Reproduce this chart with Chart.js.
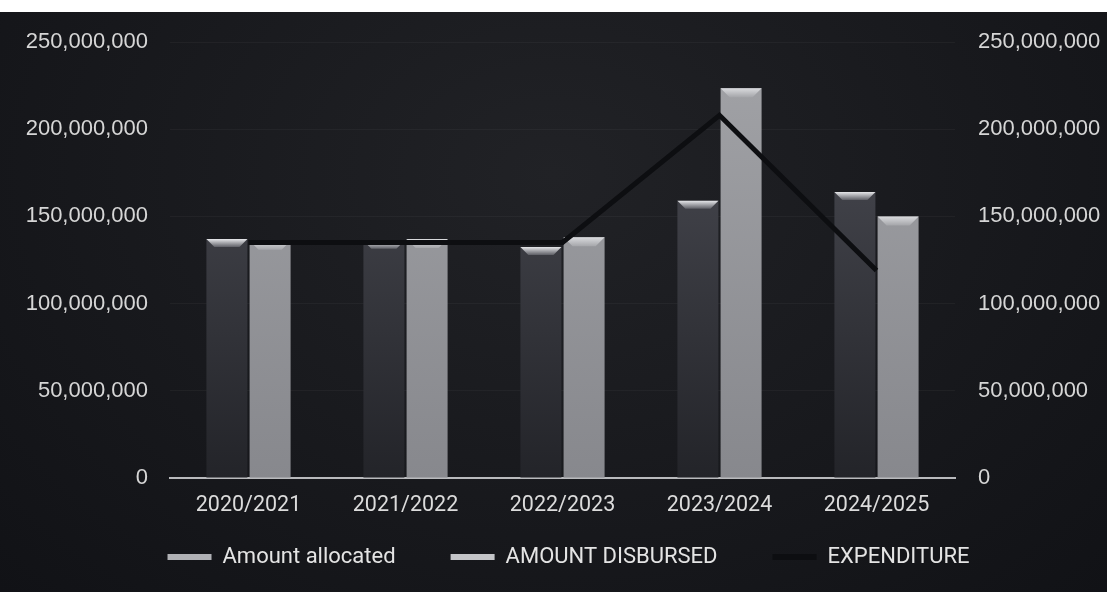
<!DOCTYPE html>
<html>
<head>
<meta charset="utf-8">
<script src="https://cdn.jsdelivr.net/npm/chart.js@4"></script>
<style>
  body { margin: 0; background: #fff; }
  #wrap {
    position: absolute; left: 0; top: 12px; width: 1107px; height: 580px;
    background: radial-gradient(ellipse at 50% 28%, #212226 0%, #18191d 55%, #111216 100%);
  }
</style>
</head>
<body>
<div id="wrap"><canvas id="budgetChart" width="1107" height="580"></canvas></div>
<script>
const years = ['2020/2021', '2021/2022', '2022/2023', '2023/2024', '2024/2025'];
const amountAllocated = [137000000, 136000000, 132500000, 159000000, 164000000];
const amountDisbursed = [136000000, 137000000, 138000000, 223500000, 150000000];
const expenditure = [135000000, 135000000, 135000000, 208000000, 119000000];
const yTicks = [0, 50000000, 100000000, 150000000, 200000000, 250000000];

// vertical gradient for the bars, built once the chart area is known
function barGradient(top, bottom, fallback) {
  return function (context) {
    const { ctx, chartArea } = context.chart;
    if (!chartArea) return fallback;
    const g = ctx.createLinearGradient(0, chartArea.bottom, 0, chartArea.top);
    g.addColorStop(0, bottom);
    g.addColorStop(1, top);
    return g;
  };
}

// light bevel on top of every bar
const bevelPlugin = {
  id: 'bevel',
  afterDatasetDraw(chart, args) {
    const meta = args.meta;
    if (meta.type !== 'bar') return;
    const ds = chart.data.datasets[args.index];
    const ctx = chart.ctx;
    ctx.save();
    meta.data.forEach(bar => {
      const half = bar.width / 2;
      const h = ds.bevelHeight;
      const g = ctx.createLinearGradient(0, bar.y, 0, bar.y + h);
      g.addColorStop(0, ds.bevelTop);
      g.addColorStop(1, ds.bevelBottom);
      ctx.fillStyle = g;
      ctx.beginPath();
      ctx.moveTo(bar.x - half, bar.y);
      ctx.lineTo(bar.x + half, bar.y);
      ctx.lineTo(bar.x + half - h, bar.y + h);
      ctx.lineTo(bar.x - half + h, bar.y + h);
      ctx.closePath();
      ctx.fill();
    });
    ctx.restore();
  }
};

// the wide item padding makes the legend too tall, so trim it and move it up
const legendShift = {
  id: 'legendShift',
  beforeLayout(chart) {
    const l = chart.legend;
    if (l && !l._trimmed) {
      const fit = l.fit;
      l.fit = function () {
        fit.call(this);
        this.height = 76;
      };
      l._trimmed = true;
    }
  },
  afterLayout(chart) {
    const l = chart.legend;
    l.top -= 25; l.bottom -= 25;
    l.left += 15; l.right += 15;
  }
};

const fmt = v => Number(v).toLocaleString('en-US');

// fixed width for the value axes, and no extra room above the top tick
function valueAxisFit(width) {
  return function (scale) {
    scale.width = width;
    scale.paddingTop = 0;
    scale.paddingBottom = 0;
  };
}

const ctx = document.getElementById('budgetChart').getContext('2d');
const budgetChart = new Chart(ctx, {
  data: {
    labels: years,
    datasets: [
      {
        type: 'line',
        label: 'EXPENDITURE',
        data: expenditure,
        yAxisID: 'y1',
        borderColor: '#0d0e11',
        backgroundColor: '#0d0e11',
        borderWidth: 5,
        pointRadius: 0,
        tension: 0,
        order: 0
      },
      {
        type: 'bar',
        label: 'Amount allocated',
        data: amountAllocated,
        yAxisID: 'y',
        backgroundColor: barGradient('#4f5058', '#232429', '#3b3c43'),
        bevelHeight: 8,
        bevelTop: '#e6e7ea',
        bevelBottom: '#5e5f66',
        categoryPercentage: 0.55,
        barPercentage: 0.95,
        order: 1
      },
      {
        type: 'bar',
        label: 'AMOUNT DISBURSED',
        data: amountDisbursed,
        yAxisID: 'y',
        backgroundColor: barGradient('#a2a3a7', '#87888d', '#999a9e'),
        bevelHeight: 9,
        bevelTop: '#dadbde',
        bevelBottom: '#a5a6aa',
        categoryPercentage: 0.55,
        barPercentage: 0.95,
        order: 1
      }
    ]
  },
  options: {
    responsive: false,
    animation: false,
    layout: { padding: { top: 30, bottom: 0, left: 0, right: 0 } },
    plugins: {
      tooltip: { enabled: false },
      legend: {
        position: 'bottom',
        labels: {
          color: '#e4e4e4',
          font: { family: 'Roboto', size: 22 },
          boxWidth: 44,
          boxHeight: 6,
          padding: 55,
          generateLabels(chart) {
            const swatch = ['#0d0e11', '#b0b1b5', '#c4c5c8'];
            const items = chart.data.datasets.map((ds, i) => ({
              text: ds.label,
              fillStyle: swatch[i],
              strokeStyle: swatch[i],
              lineWidth: 0,
              fontColor: '#e4e4e4',
              datasetIndex: i
            }));
            // allocated, disbursed, expenditure
            return [items[1], items[2], items[0]];
          }
        }
      }
    },
    scales: {
      x: {
        grid: { display: false, drawTicks: false },
        border: { display: true, color: '#b9babd', width: 2 },
        ticks: { color: '#dcdcdc', font: { family: 'Roboto', size: 21.5 }, padding: 15 },
        afterFit(scale) { scale.height = 38; }
      },
      y: {
        position: 'left',
        min: 0,
        max: 250000000,
        afterBuildTicks(scale) { scale.ticks = yTicks.map(v => ({ value: v })); },
        grid: { color: 'rgba(255,255,255,0.04)', drawTicks: false },
        border: { display: false },
        ticks: {
          color: '#d6d6d6',
          font: { family: 'Liberation Sans', size: 22 },
          padding: 22,
          callback: fmt
        },
        afterFit: valueAxisFit(170)
      },
      y1: {
        position: 'right',
        min: 0,
        max: 250000000,
        afterBuildTicks(scale) { scale.ticks = yTicks.map(v => ({ value: v })); },
        grid: { display: false, drawTicks: false },
        border: { display: false },
        ticks: {
          color: '#d6d6d6',
          font: { family: 'Liberation Sans', size: 22 },
          padding: 23,
          callback: fmt
        },
        afterFit: valueAxisFit(152)
      }
    }
  },
  plugins: [bevelPlugin, legendShift]
});
</script>
</body>
</html>
